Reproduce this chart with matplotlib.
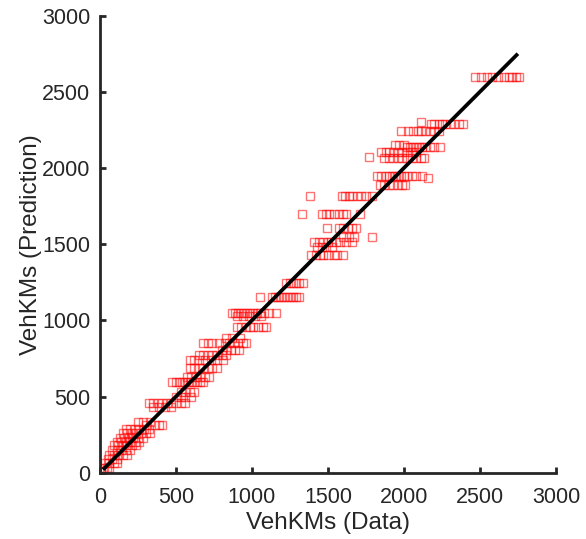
import matplotlib
matplotlib.use("Agg")
import matplotlib.pyplot as plt

plt.rcParams["font.family"] = ["Liberation Sans", "DejaVu Sans"]

veh_data = [
    2470, 2510, 2545, 2580, 2620, 2660, 2690, 2710, 2740, 2755,
    2110,
    2180, 2200, 2230, 2250, 2270, 2300, 2330, 2360, 2390,
    1980, 2030, 2060, 2090, 2110, 2140, 2170, 2200, 2230,
    1940, 1970, 2000,
    2020, 2040, 2060, 2080, 2100, 2120, 2140, 2170, 2200, 2240,
    1850, 1880, 1900, 1930, 1960, 1990, 2020, 2050, 2080,
    1770,
    1870, 1900, 1930, 1960, 1990, 2020, 2050, 2080, 2110, 2130,
    1820, 1850, 1880, 1900, 1920, 1940, 1960, 1980, 2000, 2020, 2050, 2080, 2120,
    2160,
    1840, 1870, 1900, 1930, 1960, 1990, 2010,
    1380, 1590, 1610, 1640, 1660, 1690, 1720, 1750, 1790,
    1330, 1460, 1490, 1510, 1540, 1570, 1600, 1620, 1710,
    1495, 1570, 1600, 1630, 1660, 1685,
    1600, 1640, 1670, 1790,
    1410, 1440, 1470, 1500, 1520, 1550, 1580, 1620, 1660,
    1430, 1460, 1490, 1530,
    1390, 1420, 1450, 1470, 1500, 1540, 1560, 1600,
    1225, 1250, 1270, 1290, 1310, 1335,
    1055, 1130, 1150, 1170, 1190, 1210, 1230, 1250, 1270, 1290, 1310,
    870, 890, 910, 930, 950, 970, 990, 1010, 1030, 1050, 1080, 1110, 1160,
    900, 940, 980, 1020, 1060,
    900, 930, 960, 990, 1010, 1040, 1070, 1090,
    830, 870, 920,
    680, 710, 740, 780, 820, 850, 880, 910, 940, 960,
    800, 830, 860, 890, 915,
    650, 680, 710, 740, 770, 800, 830,
    590, 620, 650, 690, 730, 770, 810,
    590, 620, 650, 680, 710, 740, 770,
    570, 600, 630, 660, 690, 720,
    475, 500, 520, 540, 560, 580, 600, 620, 640, 660, 680,
    530, 560, 590, 620,
    500, 530, 560, 600,
    320, 350, 380, 410, 440, 470, 500, 530, 560,
    350, 390, 430, 470,
    250, 280, 330,
    300, 360, 390, 410,
    170, 200, 230, 260, 290, 320,
    150, 180, 210, 240, 270, 300, 330,
    130, 160, 190, 220, 250, 280,
    110, 140, 170, 200, 230, 260,
    90, 120, 150, 180, 210, 240,
    80, 110, 140, 170, 200,
    60, 90, 120, 150, 180,
    50, 80, 110,
    30, 60, 90, 110,
    10, 25, 45, 60,
    5, 20,
]

veh_pred = [
    2600, 2600, 2600, 2600, 2600, 2600, 2600, 2600, 2600, 2600,
    2300,
    2290, 2290, 2290, 2290, 2290, 2290, 2290, 2290, 2290,
    2245, 2245, 2245, 2245, 2245, 2245, 2245, 2245, 2245,
    2150, 2150, 2150,
    2136, 2136, 2136, 2136, 2136, 2136, 2136, 2136, 2136, 2136,
    2108, 2108, 2108, 2108, 2108, 2108, 2108, 2108, 2108,
    2070,
    2064, 2064, 2064, 2064, 2064, 2064, 2064, 2064, 2064, 2064,
    1950, 1950, 1950, 1950, 1950, 1950, 1950, 1950, 1950, 1950, 1950, 1950, 1950,
    1935,
    1890, 1890, 1890, 1890, 1890, 1890, 1890,
    1815, 1815, 1815, 1815, 1815, 1815, 1815, 1815, 1815,
    1700, 1700, 1700, 1700, 1700, 1700, 1700, 1700, 1700,
    1605, 1605, 1605, 1605, 1605, 1605,
    1545, 1545, 1545, 1545,
    1513, 1513, 1513, 1513, 1513, 1513, 1513, 1513, 1513,
    1480, 1480, 1480, 1480,
    1430, 1430, 1430, 1430, 1430, 1430, 1430, 1430,
    1243, 1243, 1243, 1243, 1243, 1243,
    1156, 1156, 1156, 1156, 1156, 1156, 1156, 1156, 1156, 1156, 1156,
    1047, 1047, 1047, 1047, 1047, 1047, 1047, 1047, 1047, 1047, 1047, 1047, 1047,
    1029, 1029, 1029, 1029, 1029,
    958, 958, 958, 958, 958, 958, 958, 958,
    884, 884, 884,
    850, 850, 850, 850, 850, 850, 850, 850, 850, 850,
    806, 806, 806, 806, 806,
    773, 773, 773, 773, 773, 773, 773,
    740, 740, 740, 740, 740, 740, 740,
    685, 685, 685, 685, 685, 685, 685,
    630, 630, 630, 630, 630, 630,
    598, 598, 598, 598, 598, 598, 598, 598, 598, 598, 598,
    532, 532, 532, 532,
    499, 499, 499, 499,
    460, 460, 460, 460, 460, 460, 460, 460, 460,
    433, 433, 433, 433,
    330, 330, 330,
    315, 315, 315, 315,
    290, 290, 290, 290, 290, 290,
    260, 260, 260, 260, 260, 260, 260,
    230, 230, 230, 230, 230, 230,
    200, 200, 200, 200, 200, 200,
    182, 182, 182, 182, 182, 182,
    150, 150, 150, 150, 150,
    116, 116, 116, 116, 116,
    90, 90, 90,
    64, 64, 64, 64,
    31, 31, 31, 31,
    10, 10,
]

# y = x reference line
fit_x = [20, 2750]
fit_y = [20, 2750]

ticks = [0, 500, 1000, 1500, 2000, 2500, 3000]
axcol = "#262626"

fig = plt.figure(figsize=(5.86, 5.39), dpi=100)
ax = fig.add_axes([0.1706, 0.123, 0.778, 0.848])

ax.plot(veh_data, veh_pred, "s", mfc="none", mec=(1, 0, 0, 0.55), mew=1.0, ms=6.4)
ax.plot(fit_x, fit_y, color="black", lw=2.7, solid_capstyle="butt")

ax.set_xlim(0, 3000)
ax.set_ylim(0, 3000)
ax.set_xticks(ticks)
ax.set_yticks(ticks)

for s in ["top", "right"]:
    ax.spines[s].set_visible(False)
for s in ["left", "bottom"]:
    ax.spines[s].set_color(axcol)
    ax.spines[s].set_linewidth(2.0)
    ax.spines[s].set_capstyle("projecting")

ax.tick_params(direction="in", length=4.5, width=2.0, colors=axcol,
               labelsize=15.5, pad=7)
ax.tick_params(axis="x", pad=10)
ax.set_xlabel("VehKMs (Data)", fontsize=17.5, color=axcol, labelpad=3)
ax.set_ylabel("VehKMs (Prediction)", fontsize=17.5, color=axcol, labelpad=0)

fig.savefig("out.png", dpi=100)
